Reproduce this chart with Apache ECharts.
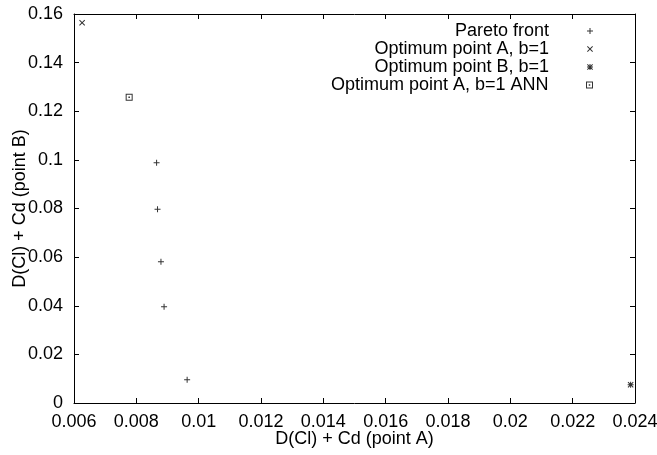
<!DOCTYPE html>
<html><head><meta charset="utf-8">
<script src="https://cdn.jsdelivr.net/npm/echarts@6/dist/echarts.min.js"></script>
<style>html,body{margin:0;padding:0;background:#fff}#c{width:657px;height:455px}</style>
</head><body><div id="c"></div>
<script>
// Data
const seriesNames = ['Pareto front', 'Optimum point A, b=1', 'Optimum point B, b=1', 'Optimum point A, b=1 ANN'];
const paretoFront = [[0.00865, 0.0988], [0.00868, 0.0797], [0.00879, 0.0581], [0.00889, 0.0396], [0.00963, 0.0096]];
const optimumA = [[0.00626, 0.1564]];
const optimumB = [[0.02386, 0.0075]];
const optimumAnn = [[0.00777, 0.1258]];
const xTicks = {min: 0.006, max: 0.024, interval: 0.002};
const yTicks = {min: 0, max: 0.16, interval: 0.02};

const PLUS = 'path://M0,5H12V7H0Z M5,0H7V12H5Z';
const CROSS = 'path://M0,1.4L1.4,0L12,10.6L10.6,12Z M10.6,0L12,1.4L1.4,12L0,10.6Z';
const STAR = 'path://M0,5H12V7H0Z M5,0H7V12H5Z M0,1.4L1.4,0L12,10.6L10.6,12Z M10.6,0L12,1.4L1.4,12L0,10.6Z';
const BOX = 'path://M0,0H14V14H0Z M2,2V12H12V2Z M5.5,5.5H8.5V8.5H5.5Z';
const symbols = [PLUS, CROSS, STAR, BOX];
const sizes = [6, 6, 6, 7];
const datasets = [paretoFront, optimumA, optimumB, optimumAnn];

const FONT = 'Liberation Sans';
const FS = 18;
const fmt = v => String(+v.toFixed(4));

const axisCommon = {
  axisLine: {show: true, onZero: false, lineStyle: {color: '#000', width: 1}},
  axisTick: {show: true, inside: true, length: 5, lineStyle: {color: '#000'}},
  splitLine: {show: false},
  nameMoveOverlap: false
};

const chart = echarts.init(document.getElementById('c'), null, {renderer: 'canvas'});
chart.setOption({
  animation: false,
  textStyle: {fontFamily: FONT, color: '#000'},
  grid: {left: 74, right: 22, top: 14, bottom: 52, containLabel: false, outerBoundsMode: 'none'},
  xAxis: [
    Object.assign({type: 'value', position: 'bottom', min: xTicks.min, max: xTicks.max, interval: xTicks.interval,
      name: 'D(Cl) + Cd (point A)', nameLocation: 'middle', nameGap: 27,
      nameTextStyle: {fontFamily: FONT, fontSize: FS, color: '#000'},
      axisLabel: {formatter: fmt, fontFamily: FONT, fontSize: FS, color: '#000', margin: 10}}, axisCommon),
    Object.assign({type: 'value', position: 'top', min: xTicks.min, max: xTicks.max, interval: xTicks.interval,
      axisLabel: {show: false}}, axisCommon)
  ],
  yAxis: [
    Object.assign({type: 'value', position: 'left', min: yTicks.min, max: yTicks.max, interval: yTicks.interval,
      name: 'D(Cl) + Cd (point B)', nameLocation: 'middle', nameGap: 45,
      nameTextStyle: {fontFamily: FONT, fontSize: FS, color: '#000'},
      axisLabel: {formatter: fmt, fontFamily: FONT, fontSize: FS, color: '#000', margin: 11}}, axisCommon),
    Object.assign({type: 'value', position: 'right', min: yTicks.min, max: yTicks.max, interval: yTicks.interval,
      axisLabel: {show: false}}, axisCommon)
  ],
  legend: seriesNames.map((n, i) => ({
    data: [{name: n, icon: symbols[i]}],
    orient: 'vertical', align: 'right', right: 64, top: 22 + i * 18,
    itemWidth: 72, itemHeight: sizes[i], symbolKeepAspect: true,
    padding: 0, selectedMode: false,
    textStyle: {fontFamily: FONT, fontSize: FS, color: '#000', padding: 0}
  })),
  series: seriesNames.map((n, i) => ({
    name: n, type: 'scatter', xAxisIndex: 0, yAxisIndex: 0,
    data: datasets[i], symbol: symbols[i], symbolSize: sizes[i], symbolKeepAspect: true,
    itemStyle: {color: '#000'}, emphasis: {disabled: true}
  }))
});
</script></body></html>
